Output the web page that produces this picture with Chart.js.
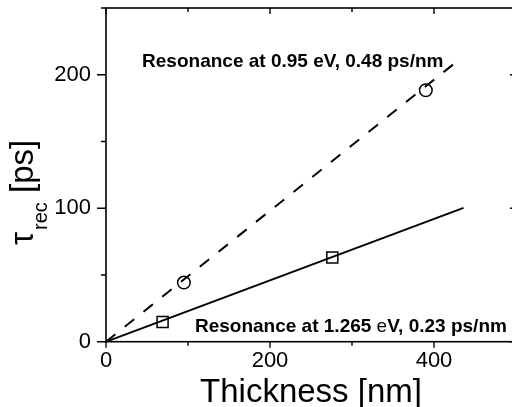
<!DOCTYPE html>
<html><head><meta charset="utf-8">
<script src="https://cdn.jsdelivr.net/npm/chart.js@4.4.0/dist/chart.umd.min.js"></script>
<style>html,body{margin:0;padding:0;background:#fff;overflow:hidden;width:512px;height:407px}canvas{display:block}</style>
</head><body><canvas id="c" width="520" height="412" style="width:520px;height:412px"></canvas>
<script>
// ---- data ----
const thicknessTicks = [0, 100, 200, 300, 400, 500];
const thicknessLabelled = [0, 200, 400];
const tauTicks = [0, 50, 100, 150, 200, 250];
const tauLabelled = [0, 100, 200];
const circleThickness = [95, 390];
const circleTau = [44.3, 188.4];
const squareThickness = [69, 276];
const squareTau = [14.7, 63];
const dashedFitThickness = [0, 426];
const dashedFitTau = [0, 209];
const solidFitThickness = [0, 436];
const solidFitTau = [0, 100.3];
const annotationTexts = [
  [{t: 'Resonance at 0.95 eV, 0.48 ps/nm', w: 'bold'}],
  [{t: 'Resonance at 1.265 ', w: 'bold'}, {t: 'e', w: 'normal'}, {t: 'V, 0.23 ps/nm', w: 'bold'}]
];
const annotationAnchorThickness = [44, 108.5];
const annotationAnchorTau = [205.7, 7.5];
const xTitle = 'Thickness [nm]';
const yTitleMain = 'τ';
const yTitleSub = 'rec';
const yTitleUnit = '[ps]';

const FAM = '"Liberation Sans", Arial, Helvetica, sans-serif';
const pts = (xs, ys) => xs.map((x, i) => ({x, y: ys[i]}));

const framePlugin = {
  id: 'frame',
  afterDraw(chart) {
    const {ctx, chartArea: a, scales: {x, y}} = chart;
    ctx.save();
    ctx.strokeStyle = '#000';
    ctx.lineWidth = 1.6;
    ctx.strokeRect(a.left, a.top, a.right - a.left, a.bottom - a.top);
    ctx.lineWidth = 1.4;
    ctx.beginPath();
    tauTicks.forEach(v => {
      const py = y.getPixelForValue(v);
      const major = v % 100 === 0;
      const lo = major ? 9 : 5, li = major ? 6 : 3;
      ctx.moveTo(a.left - lo, py); ctx.lineTo(a.left, py);
      ctx.moveTo(a.right, py); ctx.lineTo(a.right - li, py);
    });
    thicknessTicks.forEach(v => {
      const px = x.getPixelForValue(v);
      const major = v % 200 === 0;
      const lo = major ? 6 : 4, li = major ? 6 : 4;
      ctx.moveTo(px, a.bottom); ctx.lineTo(px, a.bottom + lo);
      ctx.moveTo(px, a.top); ctx.lineTo(px, a.top + li);
    });
    ctx.stroke();

    // y title
    ctx.fillStyle = '#000';
    ctx.translate(33, 245);
    ctx.rotate(-Math.PI / 2);
    ctx.textBaseline = 'alphabetic';
    ctx.textAlign = 'left';
    ctx.font = '33px ' + FAM;
    ctx.fillText(yTitleMain, 0, 0);
    let cx = ctx.measureText(yTitleMain).width + 2;
    ctx.font = '20px ' + FAM;
    ctx.fillText(yTitleSub, cx, 14);
    cx += ctx.measureText(yTitleSub).width;
    ctx.font = '33px ' + FAM;
    cx += ctx.measureText(' ').width;
    ctx.fillText(yTitleUnit, cx, 0);
    ctx.setTransform(1, 0, 0, 1, 0, 0);

    // annotations
    annotationTexts.forEach((parts, i) => {
      let px = x.getPixelForValue(annotationAnchorThickness[i]);
      const py = y.getPixelForValue(annotationAnchorTau[i]);
      parts.forEach(p => {
        ctx.font = p.w + ' 19px ' + FAM;
        ctx.fillText(p.t, px, py);
        px += ctx.measureText(p.t).width;
      });
    });
    ctx.restore();
  }
};

new Chart(document.getElementById('c'), {
  type: 'scatter',
  data: {
    datasets: [
      {data: pts(dashedFitThickness, dashedFitTau), showLine: true, borderColor: '#000', borderWidth: 2, borderDash: [12, 12], pointRadius: 0, fill: false},
      {data: pts(solidFitThickness, solidFitTau), showLine: true, borderColor: '#000', borderWidth: 2, pointRadius: 0, fill: false},
      {data: pts(circleThickness, circleTau), showLine: false, pointStyle: 'circle', pointRadius: 6.3, backgroundColor: '#fff', borderColor: '#000', borderWidth: 1.5},
      {data: pts(squareThickness, squareTau), showLine: false, pointStyle: 'rect', pointRadius: 7.8, backgroundColor: '#fff', borderColor: '#000', borderWidth: 1.5}
    ]
  },
  options: {
    responsive: false,
    animation: false,
    devicePixelRatio: 1,
    layout: {autoPadding: false, padding: {top: 8, right: 4, left: 0, bottom: 0}},
    plugins: {legend: {display: false}, tooltip: {enabled: false}},
    scales: {
      x: {
        type: 'linear', min: 0, max: 500,
        afterBuildTicks: s => { s.ticks = thicknessTicks.map(v => ({value: v})); },
        afterFit: s => { s.height = 70.3; s.paddingLeft = 0; s.paddingRight = 0; },
        grid: {display: false, drawTicks: true, tickLength: 5},
        border: {display: false},
        ticks: {autoSkip: false, maxRotation: 0, padding: 1, color: '#000',
          font: {family: FAM, size: 22},
          callback: v => thicknessLabelled.includes(v) ? String(v) : ''},
        title: {display: true, text: xTitle, color: '#000', font: {family: FAM, size: 33, lineHeight: 1}, padding: {top: 0, bottom: 3}}
      },
      y: {
        type: 'linear', min: 0, max: 250,
        afterBuildTicks: s => { s.ticks = tauTicks.map(v => ({value: v})); },
        afterFit: s => { s.width = 106; s.paddingTop = 0; s.paddingBottom = 0; },
        grid: {display: false, drawTicks: true, tickLength: 8},
        border: {display: false},
        ticks: {autoSkip: false, padding: 7, color: '#000',
          font: {family: FAM, size: 22},
          callback: v => tauLabelled.includes(v) ? String(v) : ''}
      }
    }
  },
  plugins: [framePlugin]
});
</script></body></html>
